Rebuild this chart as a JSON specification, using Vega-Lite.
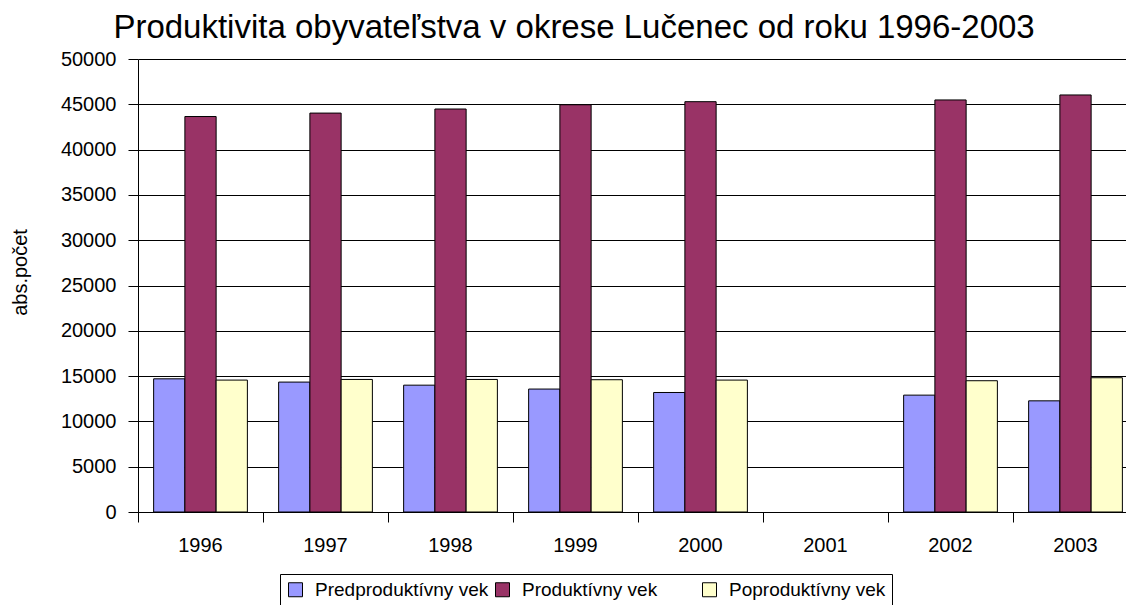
{
  "$schema": "https://vega.github.io/schema/vega-lite/v6.json",
  "width": 988,
  "height": 453,
  "autosize": {"type": "none"},
  "padding": {"left": 138, "top": 59, "right": 0, "bottom": 93},
  "background": "white",
  "title": {
    "text": "Produktivita obyvateľstva v okrese Lučenec od roku 1996-2003",
    "anchor": "start",
    "dx": 103,
    "dy": 44,
    "fontSize": 33,
    "fontWeight": "normal",
    "color": "black",
    "baseline": "alphabetic",
    "offset": 22
  },
  "config": {
    "font": "Liberation Sans",
    "view": {"stroke": null},
    "axis": {
      "labelColor": "black",
      "tickColor": "black",
      "domainColor": "black",
      "titleColor": "black",
      "labelFont": "Liberation Sans",
      "titleFont": "Liberation Sans"
    },
    "legend": {"labelFont": "Liberation Sans"}
  },
  "data": {
    "values": [
      {"rok": "1996", "skupina": "Predproduktívny vek", "pocet": 14700},
      {"rok": "1996", "skupina": "Produktívny vek", "pocet": 43650},
      {"rok": "1996", "skupina": "Poproduktívny vek", "pocet": 14560},
      {"rok": "1997", "skupina": "Predproduktívny vek", "pocet": 14340},
      {"rok": "1997", "skupina": "Produktívny vek", "pocet": 44030},
      {"rok": "1997", "skupina": "Poproduktívny vek", "pocet": 14630},
      {"rok": "1998", "skupina": "Predproduktívny vek", "pocet": 14000},
      {"rok": "1998", "skupina": "Produktívny vek", "pocet": 44480},
      {"rok": "1998", "skupina": "Poproduktívny vek", "pocet": 14630},
      {"rok": "1999", "skupina": "Predproduktívny vek", "pocet": 13570},
      {"rok": "1999", "skupina": "Produktívny vek", "pocet": 44950},
      {"rok": "1999", "skupina": "Poproduktívny vek", "pocet": 14600},
      {"rok": "2000", "skupina": "Predproduktívny vek", "pocet": 13190},
      {"rok": "2000", "skupina": "Produktívny vek", "pocet": 45290},
      {"rok": "2000", "skupina": "Poproduktívny vek", "pocet": 14560},
      {"rok": "2001", "skupina": "Predproduktívny vek", "pocet": null},
      {"rok": "2001", "skupina": "Produktívny vek", "pocet": null},
      {"rok": "2001", "skupina": "Poproduktívny vek", "pocet": null},
      {"rok": "2002", "skupina": "Predproduktívny vek", "pocet": 12900},
      {"rok": "2002", "skupina": "Produktívny vek", "pocet": 45480},
      {"rok": "2002", "skupina": "Poproduktívny vek", "pocet": 14490},
      {"rok": "2003", "skupina": "Predproduktívny vek", "pocet": 12270},
      {"rok": "2003", "skupina": "Produktívny vek", "pocet": 46030},
      {"rok": "2003", "skupina": "Poproduktívny vek", "pocet": 14820}
    ]
  },
  "mark": {"type": "bar", "stroke": "black", "strokeWidth": 1},
  "encoding": {
    "x": {
      "field": "rok",
      "type": "nominal",
      "scale": {
        "domain": ["1996", "1997", "1998", "1999", "2000", "2001", "2002", "2003"],
        "range": [0, 1000],
        "paddingInner": 0,
        "paddingOuter": 0
      },
      "axis": {
        "title": null,
        "bandPosition": 0,
        "labelAngle": 0,
        "grid": false,
        "tickSize": 10,
        "labelPadding": 13,
        "labelFontSize": 20,
        "labelOffset": 0
      }
    },
    "xOffset": {
      "field": "skupina",
      "scale": {
        "domain": ["Predproduktívny vek", "Produktívny vek", "Poproduktívny vek"],
        "paddingInner": 0,
        "paddingOuter": 0.5
      }
    },
    "y": {
      "field": "pocet",
      "type": "quantitative",
      "scale": {"domain": [0, 50000], "nice": false},
      "axis": {
        "title": "abs.počet",
        "values": [0, 5000, 10000, 15000, 20000, 25000, 30000, 35000, 40000, 45000, 50000],
        "format": "d",
        "grid": true,
        "gridColor": "black",
        "gridOpacity": 1,
        "gridWidth": 1,
        "tickSize": 10,
        "labelPadding": 12,
        "labelFontSize": 20,
        "titleFontSize": 20,
        "titleFontWeight": "normal",
        "titlePadding": 30,
        "titleY": 213
      }
    },
    "color": {
      "field": "skupina",
      "type": "nominal",
      "scale": {
        "domain": ["Predproduktívny vek", "Produktívny vek", "Poproduktívny vek"],
        "range": ["#9999FF", "#993366", "#FFFFCC"]
      },
      "legend": {
        "title": null,
        "orient": "none",
        "legendX": 142,
        "legendY": 515,
        "direction": "horizontal",
        "columns": 3,
        "gridAlign": "all",
        "symbolType": "square",
        "symbolSize": 196,
        "symbolStrokeColor": "black",
        "symbolStrokeWidth": 1,
        "symbolOpacity": 1,
        "labelFontSize": 19,
        "labelColor": "black",
        "labelOffset": 10,
        "labelLimit": 300,
        "columnPadding": 4,
        "padding": 6,
        "strokeColor": "black",
        "fillColor": "white"
      }
    }
  }
}
